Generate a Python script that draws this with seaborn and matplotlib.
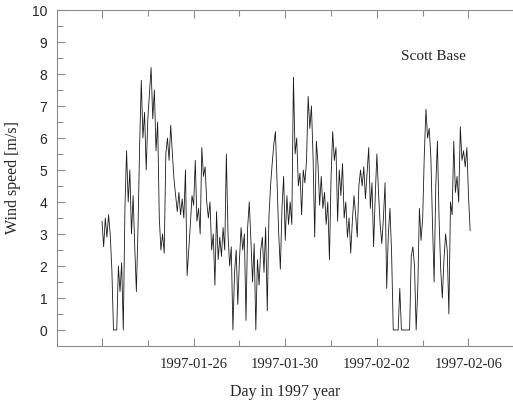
# Scott Base wind speed, late Jan / early Feb 1997
import numpy as np
import pandas as pd
import matplotlib
matplotlib.use('Agg')
import matplotlib.pyplot as plt
import seaborn as sns

# one reading every 1.5 hours, starting 1997-01-22 12:00
step_hours = 1.5
wind_speed = [
    3.4, 2.6, 3.5, 2.9, 3.6, 3.0, 1.9, 0.0, 0.0, 0.0,
    2.0, 1.2, 2.1, 0.0, 3.8, 5.6, 4.0, 5.0, 3.0, 4.2,
    2.6, 1.2, 3.2, 5.8, 7.8, 6.0, 6.8, 5.0, 6.6, 7.4,
    8.2, 6.6, 7.5, 5.6, 6.5, 3.5, 2.5, 3.0, 2.4, 5.5,
    6.0, 5.3, 6.4, 5.5, 4.7, 4.2, 3.7, 4.3, 3.6, 4.1,
    3.5, 5.0, 1.7, 2.5, 3.3, 4.2, 3.9, 5.3, 3.4, 3.8,
    3.0, 5.7, 4.8, 5.1, 4.0, 3.5, 4.0, 2.5, 3.0, 1.4,
    3.7, 2.2, 2.9, 2.3, 3.2, 2.5, 5.5, 3.0, 2.0, 2.6,
    0.0, 1.8, 2.5, 0.8, 2.2, 3.2, 2.5, 3.0, 0.3, 3.2,
    4.0, 2.8, 1.5, 2.7, 0.0, 2.2, 1.4, 2.5, 2.9, 1.8,
    3.2, 0.6, 3.5, 4.5, 5.2, 5.8, 6.2, 4.6, 3.0, 1.9,
    3.8, 4.8, 2.8, 4.2, 3.3, 4.0, 3.3, 7.9, 5.5, 6.0,
    4.5, 4.9, 3.6, 5.0, 4.6, 5.3, 7.3, 6.3, 7.0, 5.4,
    2.9, 5.9, 5.2, 3.9, 4.8, 3.8, 4.3, 3.3, 4.0, 2.2,
    4.8, 6.2, 5.3, 5.7, 3.4, 5.0, 4.2, 5.2, 3.5, 4.0,
    2.9, 3.5, 2.4, 3.4, 4.2, 3.6, 2.9, 4.5, 5.0, 4.5,
    5.1, 4.1, 4.9, 5.7, 3.8, 4.6, 2.6, 4.2, 5.5, 4.3,
    3.3, 2.7, 3.5, 4.6, 1.3, 3.0, 3.8, 2.4, 0.0, 0.0,
    0.0, 0.0, 1.3, 0.0, 0.0, 0.0, 0.0, 0.0, 0.0, 2.3,
    2.6, 2.0, 0.0, 1.3, 3.8, 2.8, 3.5, 5.5, 6.9, 6.0,
    6.3, 5.4, 3.3, 1.5, 4.5, 5.9, 3.5, 1.9, 1.0, 2.2,
    3.0, 2.5, 0.5, 4.0, 3.6, 5.9, 4.3, 4.8, 4.0, 6.35,
    5.3, 5.6, 5.1, 5.7, 4.2, 3.1,
]

# ticks every 3.5 days from the start
tick_days = [0, 3.5, 7, 10.5, 14]
tick_labels = ['', '1997-01-26', '1997-01-30', '1997-02-02', '1997-02-06']

df = pd.DataFrame({
    'day': np.arange(len(wind_speed)) * step_hours / 24.0,
    'speed': wind_speed,
})

sns.set_style('white')
plt.rcParams['font.family'] = ['Liberation Serif', 'DejaVu Serif']

fig = plt.figure(figsize=(5.13, 4.09), dpi=100)
ax = fig.add_axes([57 / 513, 1 - 346 / 409, 1 - 57 / 513, 336 / 409])

sns.lineplot(data=df, x='day', y='speed', ax=ax, color='#1a1a1a', linewidth=0.6)

ax.set_xlim(-1.72, 15.7)
ax.set_ylim(-0.5, 10)

ax.set_xticks(tick_days)
ax.set_xticklabels(tick_labels, fontsize=10.5)
ax.set_xticks([1.75, 5.25, 8.75, 12.25], minor=True)
ax.set_yticks(range(0, 11))
ax.set_yticklabels([str(v) for v in range(0, 11)], fontsize=10,
                   family=['Liberation Sans', 'DejaVu Sans'])
ax.set_yticks(np.arange(0.5, 10, 1.0), minor=True)

grey = '#8c8c8c'
ax.tick_params(which='both', direction='in', color=grey, width=0.8,
               top=True, right=False, left=True, bottom=True)
ax.tick_params(which='major', length=6)
ax.tick_params(which='minor', length=4)
ax.tick_params(axis='x', pad=9)
ax.tick_params(axis='y', pad=7)

for side in ['left', 'bottom', 'top']:
    ax.spines[side].set_color(grey)
    ax.spines[side].set_linewidth(0.8)
ax.spines['right'].set_visible(False)

ax.set_xlabel('Day in 1997 year', fontsize=11.5, labelpad=9)
ax.set_ylabel('Wind speed [m/s]', fontsize=11.5, labelpad=8)

ax.text(12.67, 8.55, 'Scott Base', fontsize=11, ha='center', va='center')

fig.savefig('out.png', dpi=100)
